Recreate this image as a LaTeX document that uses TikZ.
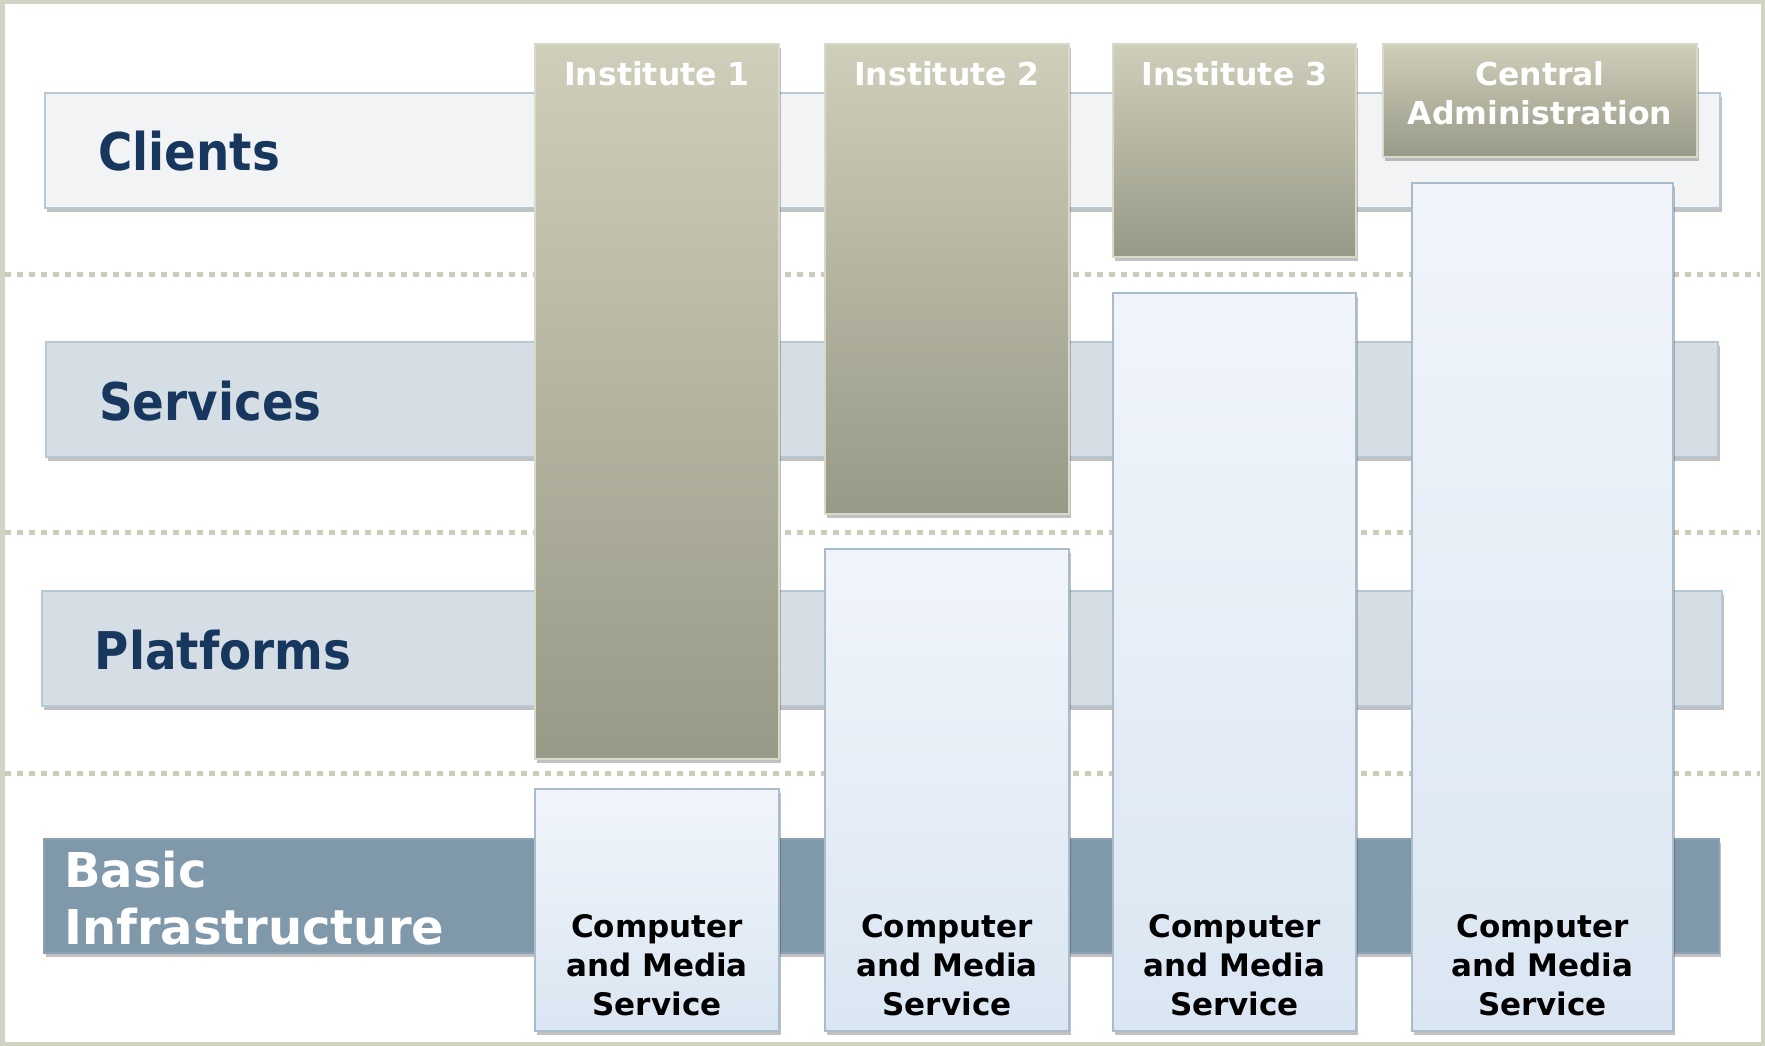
\documentclass[tikz,border=0pt]{standalone}
\usepackage{fontspec}
\setmainfont{DejaVu Sans}
\newfontfamily\condfont{DejaVu Sans}[FakeStretch=0.9]
\usetikzlibrary{shadows}
\definecolor{frameC}{HTML}{D3D3C4}
\definecolor{dotC}{HTML}{CBCBB8}
\definecolor{navy}{HTML}{17375E}
\definecolor{clientFill}{HTML}{F1F3F5}
\definecolor{bandBorder}{HTML}{B7C8D5}
\definecolor{midFill}{HTML}{D6DEE5}
\definecolor{basicFill}{HTML}{7F98AA}
\definecolor{oliveTop}{HTML}{CFCEBA}
\definecolor{oliveBot}{HTML}{989987}
\definecolor{oliveEdge}{HTML}{D9D9CA}
\definecolor{blueTop}{HTML}{F1F5FB}
\definecolor{blueBot}{HTML}{DAE6F2}
\definecolor{blueEdge}{HTML}{A9BCCC}
\tikzset{
  shade/.style={drop shadow={shadow xshift=1.5pt, shadow yshift=-4pt, opacity=0.3, fill=black!80}},
  band/.style={draw=bandBorder, line width=1.5pt, shade},
  olivebox/.style={draw=oliveEdge, line width=1.5pt, top color=oliveTop, bottom color=oliveBot, shade},
  bluebox/.style={draw=blueEdge, line width=1.5pt, top color=blueTop, bottom color=blueBot, shade},
  dotline/.style={draw=dotC, line width=5pt, dash pattern=on 6pt off 6pt},
  bandlabel/.style={font=\condfont\bfseries\fontsize{52}{60}\selectfont, text=navy, inner sep=0pt, anchor=base west},
  instlabel/.style={font=\bfseries\fontsize{31.5}{39}\selectfont, text=white, inner sep=0pt, anchor=base},
  cmslabel/.style={font=\bfseries\fontsize{31}{39}\selectfont, text=black, inner sep=0pt, anchor=base}
}
\begin{document}
\begin{tikzpicture}[x=1pt, y=-1pt]
\useasboundingbox (0,0) rectangle (1765,1046);
\fill[white] (0,0) rectangle (1765,1046);
\draw[frameC, line width=4.5pt] (2.25,2.25) rectangle (1762.75,1043.75);
% dotted separators
\draw[dotline] (5,274) -- (1760,274);
\draw[dotline] (5,532) -- (1760,532);
\draw[dotline] (5,773) -- (1760,773);
% bands
\path[band, fill=clientFill] (45,93) rectangle (1720,208);
\path[band, fill=midFill] (46,342) rectangle (1718,457);
\path[band, fill=midFill] (42,591) rectangle (1722,706);
\path[band, draw=basicFill!90!white, fill=basicFill] (44,839) rectangle (1719,953);
\node[bandlabel] (clients) at (98,171) {Clients};
\node[bandlabel] (services) at (99,420) {Services};
\node[bandlabel] (platforms) at (94.5,669) {Platforms};
\node[font=\bfseries\fontsize{48}{57}\selectfont, text=white, inner sep=0pt, anchor=base west] (basic) at (64,887)
  {\begin{tabular}[t]{@{}l@{}}Basic\\Infrastructure\end{tabular}};
% columns
\path[olivebox] (535,44) rectangle (779,759);
\path[bluebox] (535,789) rectangle (779,1031);
\path[olivebox] (825,44) rectangle (1069,514);
\path[bluebox] (825,549) rectangle (1069,1031);
\path[olivebox] (1113,44) rectangle (1356,257);
\path[bluebox] (1113,293) rectangle (1356,1031);
\path[olivebox] (1383,44) rectangle (1697,157);
\path[bluebox] (1412,183) rectangle (1673,1031);
% column labels
\node[instlabel] (inst1) at (657,86) {Institute 1};
\node[instlabel] (inst2) at (947,86) {Institute 2};
\node[instlabel] (inst3) at (1234.5,86) {Institute 3};
\node[instlabel] (central) at (1540,86) {\begin{tabular}[t]{@{}c@{}}Central\\Administration\end{tabular}};
\node[cmslabel] (cms1) at (657,937) {\begin{tabular}[t]{@{}c@{}}Computer\\and Media\\Service\end{tabular}};
\node[cmslabel] (cms2) at (947,937) {\begin{tabular}[t]{@{}c@{}}Computer\\and Media\\Service\end{tabular}};
\node[cmslabel] (cms3) at (1234.5,937) {\begin{tabular}[t]{@{}c@{}}Computer\\and Media\\Service\end{tabular}};
\node[cmslabel] (cms4) at (1542.5,937) {\begin{tabular}[t]{@{}c@{}}Computer\\and Media\\Service\end{tabular}};
\end{tikzpicture}
\end{document}
